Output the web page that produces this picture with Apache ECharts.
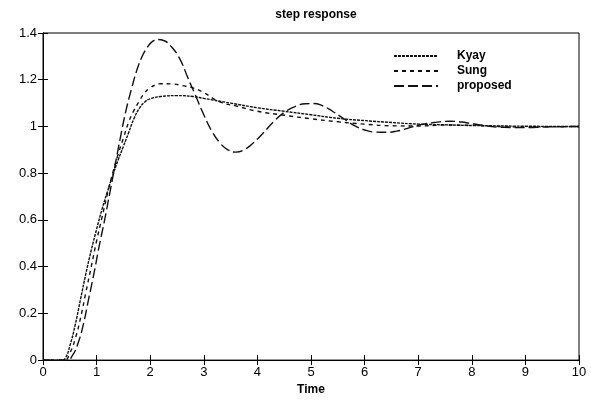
<!DOCTYPE html>
<html>
<head>
<meta charset="utf-8">
<script src="https://cdn.jsdelivr.net/npm/echarts@6/dist/echarts.min.js"></script>
<style>html,body{margin:0;padding:0;background:#fff;}#c{width:591px;height:401px;}</style>
</head>
<body>
<div id="c"></div>
<script>
var xTicks = [0,1,2,3,4,5,6,7,8,9,10];
var yTicks = [0,0.2,0.4,0.6,0.8,1,1.2,1.4];
var seriesNames = ['Kyay','Sung','proposed'];

var tKyay = [0,0.35,0.42,0.5,0.6,0.7,0.8,0.9,1.0,1.1,1.2,1.3,1.4,1.5,1.6,1.7,1.8,1.9,2.0,2.2,2.5,2.8,3.0,3.5,4.0,4.5,5.0,5.5,6.0,6.5,7.0,7.5,8.0,9.0,10];
var vKyay = [0,0,0.01,0.06,0.15,0.26,0.37,0.47,0.56,0.645,0.72,0.79,0.855,0.915,0.975,1.035,1.078,1.105,1.118,1.128,1.132,1.128,1.12,1.10,1.08,1.065,1.05,1.035,1.025,1.017,1.01,1.007,1.004,1.001,1.0];

var tSung = [0,0.4,0.5,0.6,0.7,0.8,0.9,1.0,1.1,1.2,1.3,1.4,1.5,1.6,1.7,1.8,1.9,2.0,2.1,2.2,2.4,2.6,2.8,3.0,3.3,3.6,4.0,4.5,5.0,5.5,6.0,6.5,7.0,7.5,8.0,8.5,9.0,10];
var vSung = [0,0,0.03,0.09,0.18,0.29,0.40,0.51,0.61,0.71,0.80,0.88,0.95,1.02,1.07,1.11,1.145,1.165,1.178,1.183,1.182,1.175,1.165,1.145,1.105,1.088,1.065,1.048,1.033,1.02,1.01,1.003,1.002,1.006,1.005,1.0,0.998,1.0];

var tProp = [0,0.45,0.55,0.65,0.75,0.85,0.95,1.05,1.15,1.25,1.35,1.45,1.55,1.65,1.75,1.85,1.95,2.05,2.15,2.25,2.4,2.55,2.7,2.85,3.0,3.15,3.3,3.45,3.6,3.75,3.9,4.1,4.3,4.5,4.7,4.9,5.05,5.2,5.4,5.6,5.8,6.0,6.2,6.4,6.6,6.8,7.0,7.3,7.6,7.9,8.2,8.6,9.0,9.4,10];
var vProp = [0,0,0.02,0.07,0.15,0.26,0.37,0.49,0.60,0.72,0.84,0.96,1.07,1.16,1.24,1.30,1.34,1.365,1.372,1.368,1.34,1.29,1.21,1.13,1.05,0.98,0.93,0.90,0.89,0.90,0.925,0.97,1.02,1.06,1.085,1.097,1.098,1.09,1.065,1.035,1.005,0.985,0.976,0.975,0.98,0.992,1.005,1.017,1.022,1.016,1.005,0.996,0.995,0.998,1.0];

function pairs(t, v){ return t.map(function(x,i){ return [x, v[i]]; }); }

var font = '"Liberation Sans", Arial, sans-serif';
var axisCommon = {
  type: 'value',
  axisLine: {show: true, lineStyle: {color: '#000', width: 1}},
  axisTick: {show: true, inside: true, length: 5, lineStyle: {color: '#000'}},
  splitLine: {show: false}
};

var chart = echarts.init(document.getElementById('c'), null, {renderer: 'canvas'});
chart.setOption({
  animation: false,
  backgroundColor: '#fff',
  title: {
    text: 'step response', left: 311, top: 4, textAlign: 'center',
    textStyle: {fontFamily: font, fontSize: 12, fontWeight: 'bold', color: '#000'}
  },
  legend: {
    data: seriesNames, orient: 'vertical', left: 388, top: 45,
    itemWidth: 44, itemHeight: 10, itemGap: 3,
    itemStyle: {color: 'rgba(0,0,0,0)', borderColor: 'rgba(0,0,0,0)', borderWidth: 0, opacity: 0},
    textStyle: {fontFamily: font, fontSize: 12, fontWeight: 'bold', color: '#000', padding: [0,0,0,14]}
  },
  grid: {left: 43, right: 12, top: 33, bottom: 38, show: true, borderColor: '#000', borderWidth: 1, containLabel: false},
  xAxis: [
    Object.assign({}, axisCommon, {
      min: 0, max: 10, interval: 1, position: 'bottom',
      name: 'Time', nameLocation: 'middle', nameGap: 20,
      nameTextStyle: {fontFamily: font, fontSize: 12, fontWeight: 'bold', color: '#000'},
      axisLabel: {fontFamily: font, fontSize: 13, color: '#000', margin: 6}
    }),
    Object.assign({}, axisCommon, {
      min: 0, max: 10, interval: 1, position: 'top', axisLabel: {show: false}
    })
  ],
  yAxis: [
    Object.assign({}, axisCommon, {
      min: 0, max: 1.4, interval: 0.2, position: 'left',
      axisLabel: {fontFamily: font, fontSize: 13, color: '#000', margin: 6,
        formatter: function(v){ return String(Math.round(v*10)/10); }}
    }),
    Object.assign({}, axisCommon, {
      min: 0, max: 1.4, interval: 0.2, position: 'right', axisLabel: {show: false}
    })
  ],
  series: [
    {name: 'Kyay', type: 'line', smooth: true, symbol: 'none', data: pairs(tKyay, vKyay),
     lineStyle: {color: '#111', width: 1.4, type: [3, 1]}, itemStyle: {color: '#111'}},
    {name: 'Sung', type: 'line', smooth: true, symbol: 'none', data: pairs(tSung, vSung),
     lineStyle: {color: '#111', width: 1.4, type: [4, 4]}, itemStyle: {color: '#111'}},
    {name: 'proposed', type: 'line', smooth: true, symbol: 'none', data: pairs(tProp, vProp),
     lineStyle: {color: '#111', width: 1.4, type: [10, 4]}, itemStyle: {color: '#111'}}
  ]
});
</script>
</body>
</html>
